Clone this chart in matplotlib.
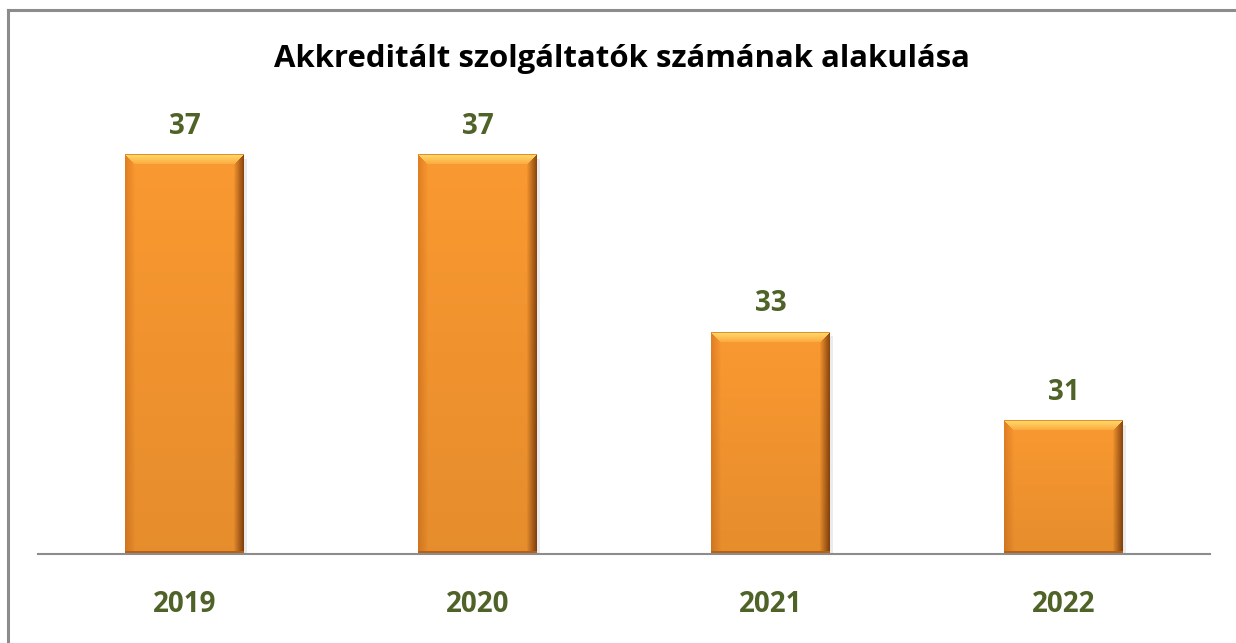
import numpy as np
import matplotlib.pyplot as plt
from matplotlib.patches import Rectangle
from matplotlib.lines import Line2D

years = ["2019", "2020", "2021", "2022"]
counts = [37, 37, 33, 31]
title = "Akkreditált szolgáltatók számának alakulása"

label_color = "#4F6228"
plt.rcParams["font.family"] = ["Open Sans", "DejaVu Sans"]

fig = plt.figure(figsize=(12.36, 6.43), dpi=100)
ax = fig.add_axes([38 / 1236, 89 / 643, 1172 / 1236, 454 / 643])

x = np.arange(len(years))
ymin = 28
ax.set_xlim(-0.5, len(years) - 0.5)
ax.set_ylim(ymin, ymin + 454 / 44.4)

bars = ax.bar(x, [c - ymin for c in counts], bottom=ymin, width=0.406,
              color="#F7962F", zorder=2)


def bevel_image(w, h, bev=10):
    # orange face with lighter top bevel and darker sides/bottom
    base = np.array([0.98, 0.60, 0.19])
    img = np.tile(base, (h, w, 1))
    yy, xx = np.mgrid[0:h, 0:w]
    dist_top = yy
    dist_left = xx
    dist_right = w - 1 - xx
    dist_bot = h - 1 - yy
    top = (dist_top < bev) & (dist_top <= dist_left) & (dist_top <= dist_right)
    left = (dist_left < bev) & ~top & (dist_left <= dist_right)
    right = (dist_right < bev) & ~top & ~left
    bot = (dist_bot < 3) & ~top
    t = dist_top / bev
    img[top] = (np.array([1.0, 0.86, 0.42]) * (1 - t[top, None])
                + np.array([0.99, 0.66, 0.24]) * t[top, None])
    img[(dist_top == 0) & top] = np.array([0.90, 0.55, 0.18])
    f = dist_left / bev
    img[left] = (np.array([0.88, 0.50, 0.14]) * (1 - f[left, None])
                 + base * f[left, None])
    f = dist_right / bev
    img[right] = (np.array([0.55, 0.28, 0.06]) * (1 - f[right, None])
                  + base * f[right, None])
    # vertical shading on face: slightly darker toward the bottom
    shade = 1 - 0.08 * (yy / max(h - 1, 1))
    img = img * shade[..., None]
    img[bot] = np.array([0.72, 0.38, 0.08])
    return np.clip(img, 0, 1)


fig.canvas.draw()
for b in bars:
    x0, y0 = b.get_x(), b.get_y()
    x1, y1 = x0 + b.get_width(), y0 + b.get_height()
    p0 = ax.transData.transform((x0, y0))
    p1 = ax.transData.transform((x1, y1))
    w = int(round(abs(p1[0] - p0[0])))
    h = int(round(abs(p1[1] - p0[1])))
    ax.imshow(bevel_image(w, h), extent=(x0, x1, y0, y1), aspect="auto",
              zorder=3, interpolation="nearest")
    # soft shadow at right side
    ax.add_patch(Rectangle((x1, y0), 0.012, b.get_height() - 0.1,
                           color="#000000", alpha=0.08, zorder=1, lw=0))
    b.set_visible(False)

ax.set_xlim(-0.5, len(years) - 0.5)
ax.set_ylim(ymin, ymin + 454 / 44.4)

for xi, c in zip(x, counts):
    ax.annotate(str(c), (xi, c), xytext=(0, 10), textcoords="offset points",
                ha="center", va="bottom", fontsize=20, fontweight="bold",
                color=label_color)

ax.set_xticks(x)
ax.set_xticklabels(years, fontsize=20, fontweight="bold", color=label_color)
ax.tick_params(axis="x", length=0, pad=26)
ax.set_yticks([])
for s in ["top", "right", "left"]:
    ax.spines[s].set_visible(False)
ax.spines["bottom"].set_color("#8C8C8C")
ax.spines["bottom"].set_linewidth(1.5)
ax.spines["bottom"].set_zorder(4)

fig.text(0.503, 1 - 59 / 643, title, ha="center", va="center",
         fontsize=22.4, fontweight="bold", color="black")

# outer chart border (only left and top visible in the crop)
fig.add_artist(Line2D([8 / 1236, 8 / 1236], [0, 1 - 10 / 643],
                      transform=fig.transFigure, color="#8C8C8C", lw=2.2))
fig.add_artist(Line2D([8 / 1236, 1], [1 - 10 / 643, 1 - 10 / 643],
                      transform=fig.transFigure, color="#8C8C8C", lw=2.2))

fig.savefig("out.png", dpi=100)
